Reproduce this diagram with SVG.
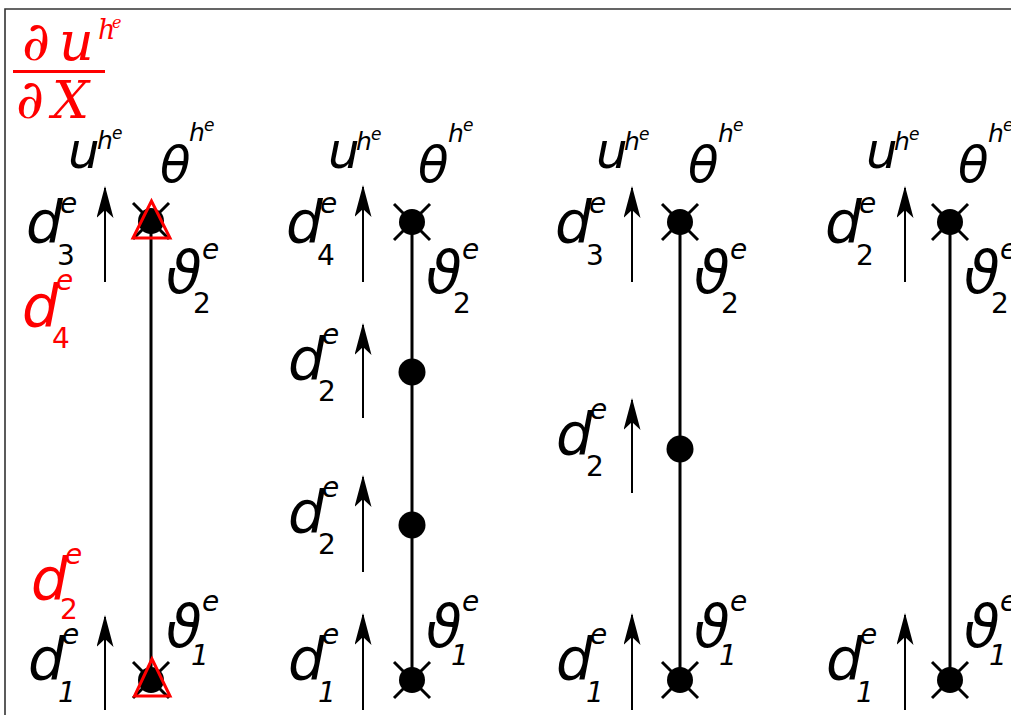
<svg xmlns="http://www.w3.org/2000/svg" width="1011" height="715" viewBox="0 0 1011 715">
<style>
.t{font-family:"DejaVu Sans",sans-serif;font-style:italic;fill:#000}
.d{font-size:58px}
.sp{font-size:28px}
.sb{font-size:28px;font-style:normal}
.sbi{font-size:28px}
.u{font-size:50px}
.th{font-size:50px}
.h{font-size:25px}
.e2{font-size:17px}
.red{fill:#f00}
.f{font-family:"DejaVu Serif",serif;font-style:italic;fill:#f00}
.el{stroke:#000;stroke-width:3;fill:none}
.ar{stroke:#000;stroke-width:2;fill:none;marker-end:url(#ah)}
.x{stroke:#000;stroke-width:3}
.tri{fill:none;stroke:#f00;stroke-width:3;stroke-linejoin:miter}
</style>
<defs>
<marker id="ah" viewBox="0 0 32 17" refX="30" refY="8.5" markerWidth="32" markerHeight="17" orient="auto" markerUnits="userSpaceOnUse">
<path d="M0,0 L32,8.5 L0,17 L8,8.5 z" fill="#000"/>
</marker>
<g id="nd">
<line x1="-18" y1="-18" x2="18" y2="18" class="x"/>
<line x1="-18" y1="18" x2="18" y2="-18" class="x"/>
<circle r="13" fill="#000"/>
</g>
<circle id="dot" r="13.5" fill="#000"/>
</defs>
<rect x="0" y="0" width="1011" height="715" fill="#fff"/>
<path d="M5,715 L5,9 L1011,9" fill="none" stroke="#333" stroke-width="1.6"/>

<g id="fraction">
<text class="f" x="22" y="60" font-size="54">∂</text>
<text class="f" x="59" y="60" font-size="54">u</text>
<text class="f" x="98" y="39" font-size="27">h</text>
<text class="f" x="112" y="28" font-size="16">e</text>
<line x1="13" y1="71.5" x2="105" y2="71.5" stroke="#f00" stroke-width="3"/>
<text class="f" x="16" y="118" font-size="54">∂</text>
<text class="f" x="52" y="118" font-size="52">X</text>
</g>

<g id="connectors">
<line x1="151" y1="222" x2="151" y2="680" class="el"/>
<line x1="412" y1="222" x2="412" y2="680" class="el"/>
<line x1="680" y1="222" x2="680" y2="680" class="el"/>
<line x1="950" y1="222" x2="950" y2="680" class="el"/>
<line x1="105" y1="282" x2="105" y2="188" class="ar"/>
<line x1="105" y1="710" x2="105" y2="617" class="ar"/>
<line x1="363" y1="282" x2="363" y2="187" class="ar"/>
<line x1="363" y1="418" x2="363" y2="325" class="ar"/>
<line x1="363" y1="572" x2="363" y2="477" class="ar"/>
<line x1="363" y1="710" x2="363" y2="615" class="ar"/>
<line x1="632" y1="282" x2="632" y2="188" class="ar"/>
<line x1="632" y1="493" x2="632" y2="400" class="ar"/>
<line x1="632" y1="710" x2="632" y2="615" class="ar"/>
<line x1="905" y1="282" x2="905" y2="188" class="ar"/>
<line x1="905" y1="710" x2="905" y2="615" class="ar"/>
</g>

<g id="col1">
<use href="#nd" x="151" y="221"/>
<use href="#nd" x="151" y="680"/>
<polygon class="tri" points="151.5,201 133,238 170,238"/>
<polygon class="tri" points="152,659 134.5,696 170,696"/>
<text class="t u" x="68" y="168">u</text><text class="t h" x="97" y="149">h</text><text class="t e2" x="112" y="139">e</text>
<text class="t th" x="160" y="182">θ</text><text class="t h" x="189" y="141">h</text><text class="t e2" x="204" y="131">e</text>
<text class="t d" x="26" y="243">d</text><text class="t sp" x="60" y="213">e</text><text class="t sb" x="57" y="265">3</text>
<text class="t d red" x="22" y="327">d</text><text class="t sp red" x="56" y="290">e</text><text class="t sb red" x="52" y="348">4</text>
<text class="t d red" x="31" y="600">d</text><text class="t sp red" x="65" y="564">e</text><text class="t sb red" x="60" y="619">2</text>
<text class="t d" x="28" y="680">d</text><text class="t sp" x="62" y="644">e</text><text class="t sbi" x="58" y="702">1</text>
<text class="t d" x="166" y="293">ϑ</text><text class="t sp" x="202" y="259">e</text><text class="t sb" x="193" y="313">2</text>
<text class="t d" x="166" y="647">ϑ</text><text class="t sp" x="202" y="611">e</text><text class="t sbi" x="191" y="665">1</text>
</g>

<g id="col2">
<use href="#nd" x="412" y="222"/>
<use href="#dot" x="412" y="372"/>
<use href="#dot" x="412" y="525"/>
<use href="#nd" x="412" y="680"/>
<text class="t u" x="328" y="168">u</text><text class="t h" x="356" y="150">h</text><text class="t e2" x="371" y="140">e</text>
<text class="t th" x="418" y="182">θ</text><text class="t h" x="448" y="142">h</text><text class="t e2" x="463" y="131">e</text>
<text class="t d" x="286" y="243">d</text><text class="t sp" x="320" y="213">e</text><text class="t sb" x="317" y="265">4</text>
<text class="t d" x="288" y="380">d</text><text class="t sp" x="322" y="344">e</text><text class="t sb" x="318" y="401">2</text>
<text class="t d" x="288" y="533">d</text><text class="t sp" x="322" y="497">e</text><text class="t sb" x="318" y="554">2</text>
<text class="t d" x="288" y="680">d</text><text class="t sp" x="322" y="644">e</text><text class="t sbi" x="318" y="702">1</text>
<text class="t d" x="426" y="293">ϑ</text><text class="t sp" x="462" y="259">e</text><text class="t sb" x="453" y="313">2</text>
<text class="t d" x="426" y="647">ϑ</text><text class="t sp" x="462" y="611">e</text><text class="t sbi" x="451" y="665">1</text>
</g>

<g id="col3">
<use href="#nd" x="680" y="222"/>
<use href="#dot" x="680" y="449"/>
<use href="#nd" x="680" y="680"/>
<text class="t u" x="596" y="168">u</text><text class="t h" x="624" y="150">h</text><text class="t e2" x="639" y="140">e</text>
<text class="t th" x="688" y="182">θ</text><text class="t h" x="718" y="142">h</text><text class="t e2" x="733" y="131">e</text>
<text class="t d" x="555" y="243">d</text><text class="t sp" x="589" y="213">e</text><text class="t sb" x="586" y="265">3</text>
<text class="t d" x="556" y="455">d</text><text class="t sp" x="590" y="419">e</text><text class="t sb" x="586" y="476">2</text>
<text class="t d" x="556" y="680">d</text><text class="t sp" x="590" y="644">e</text><text class="t sbi" x="586" y="702">1</text>
<text class="t d" x="694" y="293">ϑ</text><text class="t sp" x="730" y="259">e</text><text class="t sb" x="721" y="313">2</text>
<text class="t d" x="694" y="647">ϑ</text><text class="t sp" x="730" y="611">e</text><text class="t sbi" x="719" y="665">1</text>
</g>

<g id="col4">
<use href="#nd" x="950" y="222"/>
<use href="#nd" x="950" y="680"/>
<text class="t u" x="866" y="168">u</text><text class="t h" x="894" y="150">h</text><text class="t e2" x="909" y="140">e</text>
<text class="t th" x="958" y="182">θ</text><text class="t h" x="988" y="142">h</text><text class="t e2" x="1003" y="131">e</text>
<text class="t d" x="825" y="243">d</text><text class="t sp" x="859" y="213">e</text><text class="t sb" x="856" y="265">2</text>
<text class="t d" x="826" y="680">d</text><text class="t sp" x="860" y="644">e</text><text class="t sbi" x="856" y="702">1</text>
<text class="t d" x="964" y="293">ϑ</text><text class="t sp" x="1000" y="259">e</text><text class="t sb" x="991" y="313">2</text>
<text class="t d" x="964" y="647">ϑ</text><text class="t sp" x="1000" y="611">e</text><text class="t sbi" x="989" y="665">1</text>
</g>
</svg>
